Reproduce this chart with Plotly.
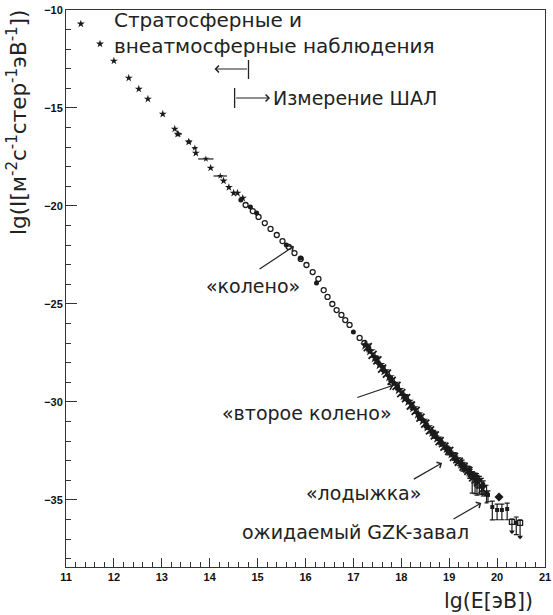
import plotly.graph_objects as go

INK = "#1b1b1b"
TXT = "#222222"
FONT = "DejaVu Sans"

# прямые (стратосферные и внеатмосферные) измерения
direct_lgE = [11.31, 11.71, 12.00, 12.31, 12.52, 12.71, 13.02, 13.27, 13.33, 13.56,
              13.71, 14.02, 14.29, 14.50, 14.58, 14.69, 14.40]
direct_lgI = [-10.71, -11.73, -12.60, -13.47, -14.03, -14.54, -15.31, -16.07, -16.33, -16.73,
              -17.30, -18.06, -18.72, -19.34, -19.34, -19.60, -19.05]

# бинированные точки с горизонтальными отрезками
bin_lgE = [13.35, 13.57, 13.69, 13.92, 14.22]
bin_hw = [0.07, 0.05, 0.05, 0.16, 0.14]
bin_lgI = [-16.33, -16.73, -17.04, -17.60, -18.47]

# область «колена»: открытые кружки
open_lgE = [14.75, 14.90, 15.02, 15.15, 15.27, 15.40, 15.52, 15.65, 15.77, 15.90, 16.02,
            16.15, 16.27, 16.38, 16.46, 16.56, 16.65, 16.75, 16.83, 16.92, 17.13, 17.23]
open_lgI = [-19.95, -20.26, -20.56, -20.87, -21.17, -21.48, -21.79, -22.09, -22.40, -22.70, -23.01,
            -23.37, -23.72, -24.29, -24.64, -25.00, -25.31, -25.56, -25.82, -26.07, -26.73, -26.99]

# закрашенные кружки
fill_lgE = [14.65, 14.85, 14.98, 15.60, 15.90, 16.23, 17.00]
fill_lgI = [-19.69, -20.05, -20.36, -21.99, -22.65, -23.93, -26.43]

# данные ШАЛ выше 10^17 эВ (три набора)
a_lgE = [17.25, 17.35, 17.45, 17.55, 17.65, 17.75, 17.85, 17.95, 18.05, 18.15, 18.25, 18.35,
         18.45, 18.55, 18.65, 18.75, 18.85, 18.95, 19.05, 19.15, 19.25, 19.35, 19.45, 19.55]
a_lgI = [-27.10, -27.40, -27.75, -28.10, -28.42, -28.72, -29.05, -29.38, -29.68, -29.98, -30.30, -30.62,
         -30.95, -31.28, -31.56, -31.85, -32.12, -32.38, -32.65, -32.92, -33.18, -33.42, -33.66, -33.95]
a_err = [0.08, 0.08, 0.08, 0.08, 0.08, 0.08, 0.08, 0.08, 0.10, 0.10, 0.10, 0.10,
         0.10, 0.10, 0.12, 0.12, 0.12, 0.14, 0.14, 0.16, 0.18, 0.20, 0.22, 0.25]

b_lgE = [17.30, 17.40, 17.50, 17.60, 17.70, 17.80, 17.90, 18.00, 18.10, 18.20, 18.30, 18.40, 18.50,
         18.60, 18.70, 18.80, 18.90, 19.00, 19.10, 19.20, 19.30, 19.40, 19.50, 19.60, 19.70]
b_lgI = [-27.20, -27.60, -27.88, -28.30, -28.55, -28.92, -29.18, -29.55, -29.80, -30.18, -30.45, -30.80, -31.10,
         -31.45, -31.70, -32.00, -32.28, -32.50, -32.80, -33.05, -33.30, -33.52, -33.85, -34.10, -34.45]
b_err = [0.10, 0.10, 0.10, 0.10, 0.10, 0.10, 0.10, 0.12, 0.12, 0.12, 0.12, 0.12, 0.14,
         0.14, 0.14, 0.15, 0.15, 0.16, 0.18, 0.20, 0.22, 0.25, 0.28, 0.30, 0.35]

c_lgE = [17.32, 17.48, 17.62, 17.78, 17.92, 18.08, 18.22, 18.38, 18.52,
         18.68, 18.82, 18.98, 19.12, 19.28, 19.42, 19.58, 19.68, 19.78]
c_lgI = [-27.30, -27.80, -28.30, -28.85, -29.25, -29.78, -30.20, -30.75, -31.20,
         -31.65, -32.05, -32.48, -32.85, -33.25, -33.60, -34.00, -34.30, -34.70]
c_err = [0.15, 0.15, 0.15, 0.15, 0.15, 0.15, 0.18, 0.18, 0.18,
         0.20, 0.20, 0.22, 0.25, 0.28, 0.30, 0.35, 0.40, 0.45]

# хвост спектра (крупные ошибки)
tail_lgE = [19.48, 19.54, 19.58, 19.63, 19.71, 19.81, 19.90, 20.00, 20.10, 20.21, 20.40]
tail_lgI = [-33.75, -33.88, -33.95, -34.00, -34.23, -34.74, -35.36, -35.51, -35.51, -35.46, -36.17]
tail_up = [0.20, 0.25, 0.20, 0.20, 0.20, 0.20, 0.30, 0.30, 0.30, 0.30, 0.30]
tail_dn = [0.90, 0.80, 0.80, 0.70, 0.50, 0.35, 0.66, 0.50, 0.50, 0.55, 0.60]

dia_lgE = [20.04]
dia_lgI = [-34.85]

# верхние пределы
lim_lgE = [20.31, 20.48]
lim_lgI = [-36.12, -36.17]
lim_drop = [0.50, 0.72]

fig = go.Figure()

fig.add_trace(go.Scatter(x=direct_lgE, y=direct_lgI, mode="markers",
    marker=dict(symbol="star", size=6, color=INK)))
fig.add_trace(go.Scatter(x=bin_lgE, y=bin_lgI, mode="markers",
    marker=dict(symbol="star", size=5, color=INK),
    error_x=dict(type="data", array=bin_hw, color=INK, thickness=1.2, width=0)))
fig.add_trace(go.Scatter(x=open_lgE, y=open_lgI, mode="markers",
    marker=dict(symbol="circle-open", size=5, color=INK, line=dict(width=1.3))))
fig.add_trace(go.Scatter(x=fill_lgE, y=fill_lgI, mode="markers",
    marker=dict(symbol="circle", size=5, color=INK)))
fig.add_trace(go.Scatter(x=a_lgE, y=a_lgI, mode="markers",
    marker=dict(symbol="star", size=8, color=INK),
    error_y=dict(type="data", array=a_err, color=INK, thickness=1, width=2)))
fig.add_trace(go.Scatter(x=b_lgE, y=b_lgI, mode="markers",
    marker=dict(symbol="x-thin", size=8, color=INK, line=dict(width=1.8, color=INK)),
    error_y=dict(type="data", array=b_err, color=INK, thickness=1, width=2)))
fig.add_trace(go.Scatter(x=c_lgE, y=c_lgI, mode="markers",
    marker=dict(symbol="square", size=5, color=INK),
    error_y=dict(type="data", array=c_err, color=INK, thickness=1.2, width=2)))
fig.add_trace(go.Scatter(x=tail_lgE, y=tail_lgI, mode="markers",
    marker=dict(symbol="square", size=4, color=INK),
    error_y=dict(type="data", symmetric=False, array=tail_up, arrayminus=tail_dn,
                 color=INK, thickness=1.2, width=2.5)))
fig.add_trace(go.Scatter(x=dia_lgE, y=dia_lgI, mode="markers",
    marker=dict(symbol="diamond", size=7, color=INK),
    error_y=dict(type="data", array=[0.2], color=INK, thickness=1.2, width=0)))
fig.add_trace(go.Scatter(x=lim_lgE, y=lim_lgI, mode="markers",
    marker=dict(symbol="square-open", size=5, color=INK, line=dict(width=1.3, color=INK)),
    error_y=dict(type="data", symmetric=False, array=[0.15] * len(lim_lgE), arrayminus=lim_drop,
                 color=INK, thickness=1.2, width=2)))
fig.add_trace(go.Scatter(x=lim_lgE, y=[v - d for v, d in zip(lim_lgI, lim_drop)], mode="markers",
    marker=dict(symbol="triangle-down", size=5, color=INK)))

ann = []


def label(text, x, y, xanchor="center", yanchor="middle", align="center", size=19, yshift=0):
    ann.append(dict(text=text, x=x, y=y, xref="x", yref="y", showarrow=False,
                    xanchor=xanchor, yanchor=yanchor, align=align, yshift=yshift,
                    font=dict(family=FONT, size=size, color=TXT)))


def arrow(x0, y0, x1, y1):
    ann.append(dict(text="", x=x1, y=y1, ax=x0, ay=y0, xref="x", yref="y",
                    axref="x", ayref="y", showarrow=True, arrowhead=4,
                    arrowsize=1.1, arrowwidth=1.2, arrowcolor=TXT))


label("Стратосферные и<br>внеатмосферные наблюдения", 11.96, -10.05, "left", "top", "left",
      size=20, yshift=5)
label("Измерение ШАЛ", 15.28, -14.49, "left")
label("«колено»", 14.90, -24.10)
label("«второе колено»", 16.03, -30.56)
label("«лодыжка»", 17.22, -34.64)
label("ожидаемый GZK-завал", 17.04, -36.63)

arrow(14.81, -13.01, 14.10, -13.01)
arrow(14.52, -14.49, 15.26, -14.49)
arrow(15.01, -23.27, 15.76, -22.05)
arrow(17.05, -29.80, 17.83, -29.15)
arrow(18.23, -33.98, 18.85, -33.11)
arrow(19.06, -36.02, 19.67, -35.15)

ann.append(dict(text="lg(E[эВ])", x=0.979, y=-0.061, xref="paper", yref="paper",
                showarrow=False, xanchor="right", yanchor="middle",
                font=dict(family=FONT, size=20.5, color=TXT)))
ann.append(dict(text="lg(I[м<sup>-2</sup>с<sup>-1</sup>стер<sup>-1</sup>эВ<sup>-1</sup>])",
                x=-0.102, y=1.003, xref="paper", yref="paper", textangle=-90,
                showarrow=False, xanchor="center", yanchor="top",
                font=dict(family=FONT, size=21.5, color=TXT)))

shapes = [
    dict(type="line", xref="x", yref="y", x0=14.81, x1=14.81, y0=-12.55, y1=-13.52,
         line=dict(color=TXT, width=1.3)),
    dict(type="line", xref="x", yref="y", x0=14.52, x1=14.52, y0=-13.98, y1=-15.00,
         line=dict(color=TXT, width=1.3)),
]

tickfont = dict(family="Liberation Sans", size=11, color="#111", weight="bold")

fig.update_layout(
    width=553, height=615,
    paper_bgcolor="white", plot_bgcolor="white",
    margin=dict(l=66, r=8, t=10, b=48, autoexpand=False),
    showlegend=False,
    annotations=ann,
    shapes=shapes,
    xaxis=dict(range=[11, 21], dtick=1, tick0=11, ticks="inside", ticklen=9,
               tickwidth=1, tickcolor="#333", showgrid=False, zeroline=False,
               showline=True, linecolor="#333", linewidth=1, mirror=True,
               tickfont=tickfont, automargin=False,
               minor=dict(dtick=0.2, ticks="inside", ticklen=5, tickcolor="#333", showgrid=False)),
    yaxis=dict(range=[-38.42, -10], dtick=5, tick0=-10, ticks="inside", ticklen=11,
               tickwidth=1, tickcolor="#333", showgrid=False, zeroline=False,
               showline=True, linecolor="#333", linewidth=1, mirror=True,
               tickfont=tickfont, automargin=False,
               minor=dict(dtick=1, ticks="inside", ticklen=5, tickcolor="#333", showgrid=False)),
)

# страница без отступов body, чтобы график стоял в (0, 0)
fig.write_html("out.html", config={"displayModeBar": False},
               post_script="document.body.style.margin = '0';")
